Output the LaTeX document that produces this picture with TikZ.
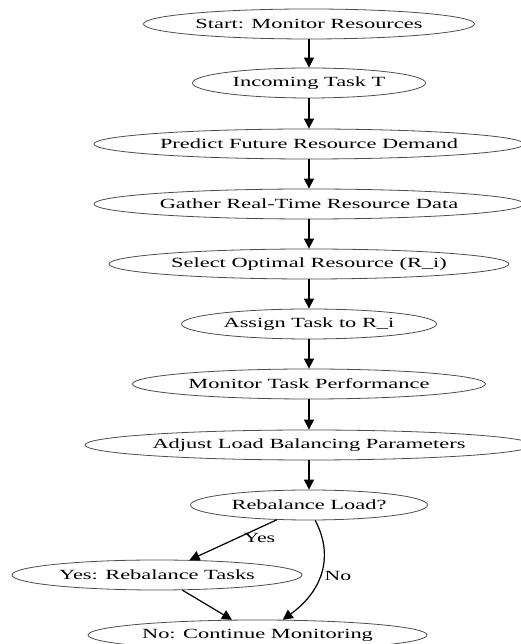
\documentclass[tikz,border=0pt]{standalone}
\usepackage{fontspec}
\setmainfont{Liberation Serif}
\usetikzlibrary{shapes.geometric,arrows.meta}

\begin{document}
\begin{tikzpicture}
[x=1pt,y=1pt,
  arrowDecorate/.style={-{Triangle[length=10pt,width=10pt]},line width=1.2pt},%
  nodeDecorate/.style={shape=ellipse,draw=black!70,line width=0.8pt,inner sep=0pt,minimum height=30pt,font=\fontsize{14}{17}\selectfont},%
  labelDecorate/.style={font=\fontsize{14}{17}\selectfont}]
\useasboundingbox (0,0) rectangle (521,644);
%% nodes or vertices
\foreach \nodename/\x/\y/\w/\txt in {
  start/309/620/331/Start: Monitor Resources,
  incoming/309/561/233/Incoming Task T,
  predict/309/500/430/Predict Future Resource Demand,
  gather/309/440/430/Gather Real-Time Resource Data,
  select/309/380/400/Select Optimal Resource (R\_i),
  assign/309/320/255/Assign Task to R\_i,
  monitor/309/260/353/Monitor Task Performance,
  adjust/309/199/448/Adjust Load Balancing Parameters,
  rebalance/309/139/237/Rebalance Load?,
  yesnode/157/69/290/Yes: Rebalance Tasks,
  nonode/257.5/9/339/No: Continue Monitoring}
{
  \node (\nodename) at (\x,\y) [nodeDecorate,minimum width=\w pt] {\scalebox{1.6}[1]{\txt}};
}
%% edges or lines
\path
\foreach \startnode/\endnode in {start/incoming, incoming/predict, predict/gather,
  gather/select, select/assign, assign/monitor, monitor/adjust, adjust/rebalance,
  yesnode/nonode}
{
  (\startnode) edge[arrowDecorate] (\endnode)
}
(rebalance) edge[arrowDecorate] node[labelDecorate,pos=0.2,below=2pt] {\scalebox{1.55}[1]{Yes}} (yesnode);
\draw[arrowDecorate] (rebalance.-68) .. controls (333,90) and (325,55) .. node[labelDecorate,pos=0.55,right=1pt] {\scalebox{1.55}[1]{No}} (nonode.31);
\end{tikzpicture}
\end{document}
